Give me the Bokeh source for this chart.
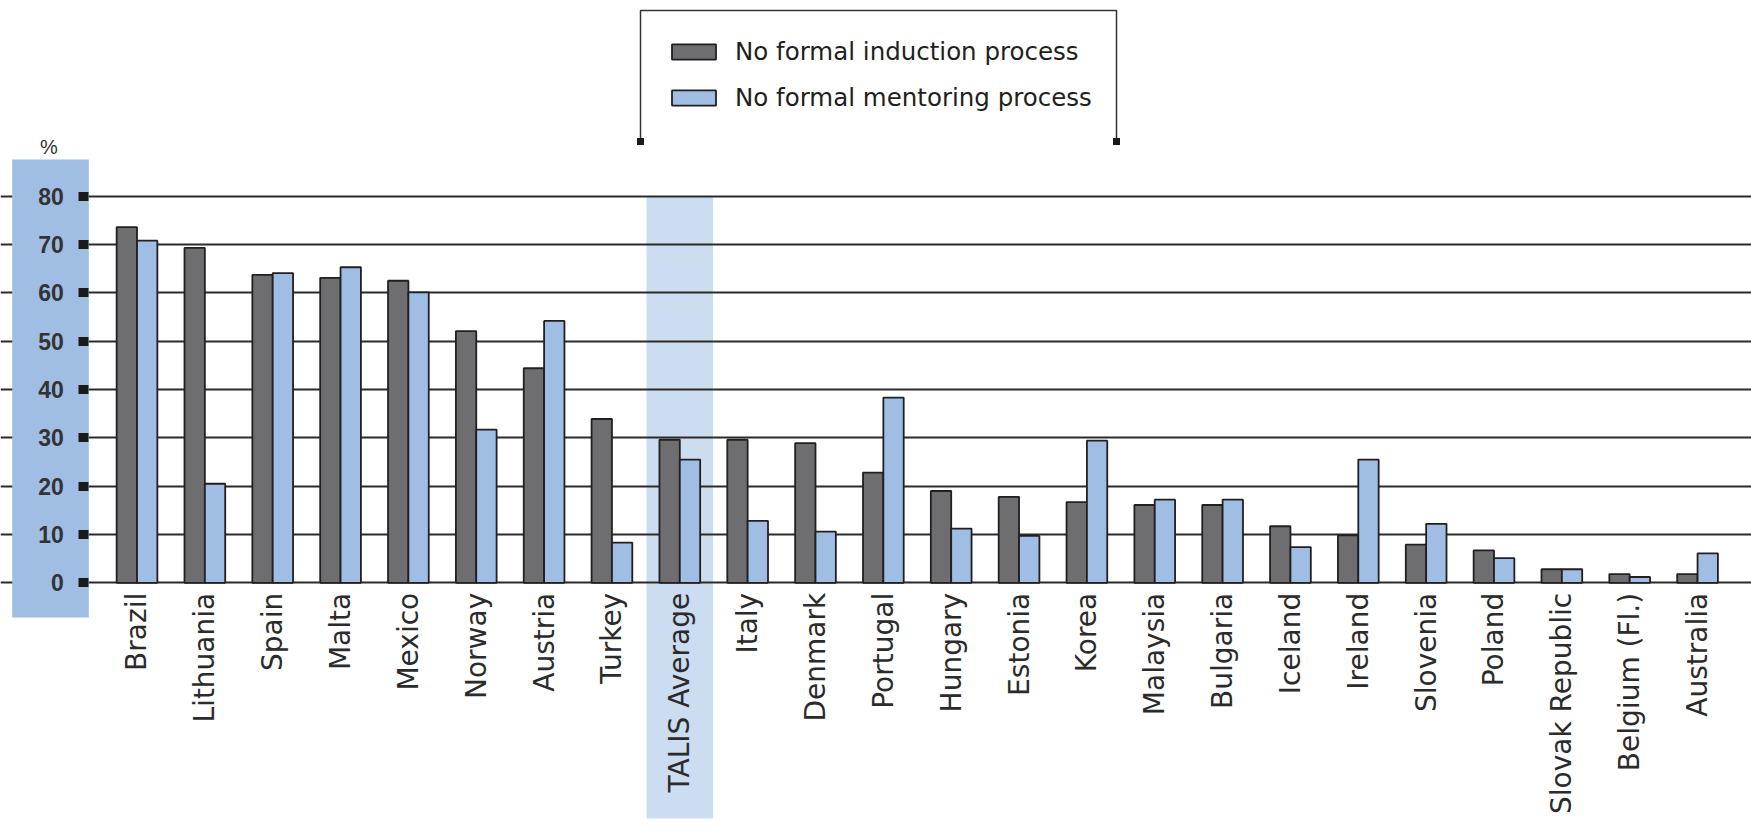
import numpy as np
from math import pi
from bokeh.plotting import figure
from bokeh.models import (Range1d, FixedTicker, ColumnDataSource, Legend, LegendItem,
                          Label)
from bokeh.transform import dodge
from bokeh.embed import file_html
from bokeh.resources import INLINE

# ---------------- data ----------------
countries = ["Brazil", "Lithuania", "Spain", "Malta", "Mexico", "Norway", "Austria",
             "Turkey", "TALIS Average", "Italy", "Denmark", "Portugal", "Hungary",
             "Estonia", "Korea", "Malaysia", "Bulgaria", "Iceland", "Ireland",
             "Slovenia", "Poland", "Slovak Republic", "Belgium (Fl.)", "Australia"]
induction = [73.6, 69.3, 63.7, 63.1, 62.5, 52.1, 44.4, 33.9, 29.6, 29.6, 28.9, 22.8,
             19.0, 17.8, 16.7, 16.1, 16.1, 11.7, 9.8, 7.9, 6.7, 2.8, 1.8, 1.8]
mentoring = [70.8, 20.5, 64.1, 65.3, 60.1, 31.7, 54.2, 8.3, 25.5, 12.8, 10.6, 38.3,
             11.2, 9.7, 29.4, 17.2, 17.2, 7.4, 25.5, 12.2, 5.1, 2.8, 1.2, 6.1]
series_names = ["No formal induction process", "No formal mentoring process"]
y_ticks = [0, 10, 20, 30, 40, 50, 60, 70, 80]
highlight = "TALIS Average"

# ---------------- geometry (canvas pixels) ----------------
W, H = 1751, 826
PX_CAT = 67.85      # pixels per category
PX_UNIT = 4.8325    # pixels per percentage point
X0 = 136.5          # canvas x of first category centre
Y0 = 582.3          # canvas y of value 0


def dx(cx):
    return (cx - X0) / PX_CAT


def dy(cy):
    return (Y0 - cy) / PX_UNIT


DARK = "#6e6e70"
BLUE = "#a0bee4"
LIGHT = "#ccdcf1"
EDGE = "#231f20"

p = figure(width=W, height=H, x_range=Range1d(dx(0), dx(W)),
           y_range=Range1d(dy(H), dy(0)), output_backend="svg",
           toolbar_location=None, min_border=0)
p.outline_line_color = None
p.background_fill_color = "white"
p.border_fill_color = "white"

idx = list(range(len(countries)))
src = ColumnDataSource(dict(x=idx, country=countries, ind=induction, men=mentoring))

# highlight band behind TALIS average (below the grid)
hi = countries.index(highlight)
p.quad(left=[hi - 0.49], right=[hi + 0.49], bottom=[dy(818)], top=[y_ticks[-1]],
       fill_color=LIGHT, line_color=None, level="image")

# bars
bw = 0.3
r1 = p.vbar(x=dodge("x", -bw / 2, range=p.x_range), top="ind", width=bw, source=src,
            fill_color=DARK, line_color=EDGE, line_width=1.8)
r2 = p.vbar(x=dodge("x", bw / 2, range=p.x_range), top="men", width=bw, source=src,
            fill_color=BLUE, line_color=EDGE, line_width=1.8)

# blue panel behind y axis labels (covers grid lines on the left)
p.quad(left=[dx(11.7)], right=[dx(88.3)], bottom=[dy(617)], top=[dy(159)],
       fill_color=BLUE, line_color=None)

# grid
p.xgrid.visible = False
p.ygrid.ticker = FixedTicker(ticks=y_ticks, minor_ticks=[])
p.ygrid.grid_line_color = "#2b2b2b"
p.ygrid.grid_line_width = 2.2

# y axis
ya = p.yaxis[0]
ya.ticker = FixedTicker(ticks=y_ticks, minor_ticks=[])
ya.fixed_location = dx(88.3)
ya.axis_line_color = None
ya.major_tick_out = 10
ya.major_tick_in = 0
ya.major_tick_line_width = 9
ya.major_tick_line_color = "#1a1a1a"
ya.minor_tick_line_color = None
ya.major_label_standoff = 15
ya.major_label_text_font = "Liberation Sans"
ya.major_label_text_font_style = "bold"
ya.major_label_text_font_size = "23px"
ya.major_label_text_color = "#333333"

# x axis
xa = p.xaxis[0]
xa.ticker = FixedTicker(ticks=idx, minor_ticks=[])
xa.major_label_overrides = {i: c for i, c in enumerate(countries)}
xa.fixed_location = 0
xa.axis_line_color = None
xa.major_tick_line_color = None
xa.minor_tick_line_color = None
xa.major_tick_out = 0
xa.major_tick_in = 0
xa.major_label_standoff = 10
xa.major_label_orientation = pi / 2
xa.major_label_text_font = "DejaVu Sans"
xa.major_label_text_font_size = "28px"
xa.major_label_text_color = "#2b2b2b"

# "%" unit label
p.add_layout(Label(x=dx(48.5), y=dy(146), text="%", text_align="center",
                   text_baseline="middle", text_font="Liberation Sans",
                   text_font_size="20px", text_color="#333333"))

# legend
legend = Legend(items=[LegendItem(label=series_names[0], renderers=[r1]),
                       LegendItem(label=series_names[1], renderers=[r2])],
                location=(666, 714), orientation="vertical",
                glyph_width=55, glyph_height=19, label_height=29, spacing=17,
                label_standoff=14, padding=0, margin=0,
                border_line_color=None, background_fill_alpha=0,
                label_text_font="DejaVu Sans", label_text_font_size="24.5px",
                label_text_color="#231f20")
p.add_layout(legend)

# legend bracket
bx = [dx(640), dx(640), dx(1116), dx(1116)]
by = [dy(141), dy(10), dy(10), dy(141)]
p.line(bx, by, line_color="#333333", line_width=1.5)
p.scatter([dx(640), dx(1116)], [dy(141), dy(141)], marker="square", size=7,
          fill_color="#1a1a1a", line_color=None)

open("out.html", "w").write(file_html(p, INLINE))
